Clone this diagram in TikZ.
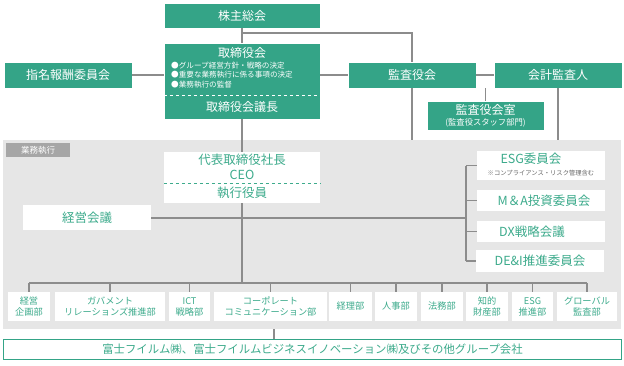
\documentclass[tikz,border=0pt]{standalone}
\usepackage{fontspec}
\setmainfont{Noto Sans CJK JP}
\usetikzlibrary{calc,positioning}
\definecolor{fujiGreen}{HTML}{34A487}
\definecolor{fujiText}{HTML}{3DAB8C}
\definecolor{fujiLine}{HTML}{8C8C8C}
\definecolor{fujiPanel}{HTML}{E6E6E6}
\definecolor{fujiTag}{HTML}{A6A6A6}
\tikzset{
  link/.style={draw=fujiLine, line width=1.1pt},
  green box/.style={fill=fujiGreen, draw=white, line width=0.4pt,
    text=white, align=center, inner sep=0pt, font=\fontsize{12}{14}\selectfont},
  white box/.style={fill=white, text=fujiText, align=center, inner sep=0pt,
    font=\fontsize{12.5}{14}\selectfont},
  dept box/.style={fill=white, text=fujiText, align=center, inner sep=0pt,
    minimum height=29pt, font=\fontsize{9.2}{11}\selectfont},
  tiny note/.style={font=\fontsize{6.3}{7}\selectfont, text=black!60}
}
\begin{document}
\begin{tikzpicture}[x=1pt, y=-1pt]
  \useasboundingbox (0,0) rectangle (624,365);
  % governance
  \node[green box, minimum width=156pt, minimum height=25pt] (soukai) at (242,15.5) {株主総会};
  \node[green box, minimum width=156pt, minimum height=76pt] (torishimari) at (242,81) {};
  \node[text=white, font=\fontsize{12}{14}\selectfont] (torititle) at (242,53) {取締役会};
  \node[text=white, align=left, anchor=north west, inner sep=0pt,
    font=\fontsize{7.6}{9.6}\selectfont] (toribullet) at (171,61.5)
    {●グループ経営方針・戦略の決定\\●重要な業務執行に係る事項の決定\\●業務執行の監督};
  \draw[white, dashed, line width=0.5pt] (torishimari.west |- 0,95) -- (torishimari.east |- 0,95);
  \node[text=white, font=\fontsize{12}{14}\selectfont] (gichou) at (242,107) {取締役会議長};
  \node[green box, minimum width=128pt, minimum height=26pt] (shimei) at (68,75) {指名報酬委員会};
  \node[green box, minimum width=128pt, minimum height=26pt] (kansa) at (412,75) {監査役会};
  \node[green box, minimum width=128pt, minimum height=26pt] (kaikei) at (558,75) {会計監査人};
  \node[green box, minimum width=117pt, minimum height=29pt] (kansashitsu) at (485.5,115.5)
    {監査役会室\\[-3pt]{\fontsize{8.3}{10}\selectfont (監査役スタッフ部門)}};

  % execution panel
  \node[fill=fujiPanel, minimum width=618pt, minimum height=189pt, inner sep=0pt] (panel) at (312,234.5) {};
  \node[fill=fujiTag, text=white, minimum width=64pt, minimum height=14pt, inner sep=0pt,
    font=\fontsize{8.5}{10}\selectfont] (tag) at (38,150) {業務執行};
  \node[white box, minimum width=156pt, minimum height=51pt] (ceo) at (242,177.5) {};
  \node[text=fujiText, align=center, inner sep=0pt, font=\fontsize{12.5}{15}\selectfont] (ceotext) at (242,167)
    {代表取締役社長\\CEO};
  \draw[fujiText, dashed, line width=0.6pt] (ceo.west |- 0,183) -- (ceo.east |- 0,183);
  \node[text=fujiText, font=\fontsize{12.5}{14}\selectfont] (yakuin) at (242,193) {執行役員};
  \node[white box, minimum width=128pt, minimum height=25pt] (keiei) at (87,217.5) {経営会議};
  \node[white box, minimum width=128pt, minimum height=29pt] (esg) at (541,165.5) {};
  \node[text=fujiText, font=\fontsize{12.5}{14}\selectfont, inner sep=0pt] (esgtext) at (531,159) {ESG委員会};
  \node[tiny note, inner sep=0pt] (esgnote) at (541,173.5) {※コンプライアンス・リスク管理含む};
  \node[white box, minimum width=128pt, minimum height=21pt] (ma) at (541,200.5) {\hspace{6pt}M＆A投資委員会};
  \node[white box, minimum width=128pt, minimum height=21pt] (dx) at (541,231.5) {DX戦略会議\hspace{18pt}};
  \node[white box, minimum width=128pt, minimum height=22pt] (dei) at (540,261) {DE\&I推進委員会};

  % departments
  \node[dept box, minimum width=42pt] (keikaku) at (29,306.5) {経営\\企画部};
  \node[dept box, minimum width=110pt] (gov) at (110,306.5) {ガバメント\\リレーションズ推進部};
  \node[dept box, minimum width=41pt] (ict) at (189.5,306.5) {ICT\\戦略部};
  \node[dept box, minimum width=113pt] (corp) at (270.5,306.5) {コーポレート\\コミュニケーション部};
  \node[dept box, minimum width=43pt] (keiri) at (350.5,306.5) {経理部};
  \node[dept box, minimum width=42pt] (jinji) at (396,306.5) {人事部};
  \node[dept box, minimum width=42pt] (houmu) at (442,306.5) {法務部};
  \node[dept box, minimum width=42pt] (chiteki) at (487,306.5) {知的\\財産部};
  \node[dept box, minimum width=41pt] (esgsuishin) at (532.5,306.5) {ESG\\推進部};
  \node[dept box, minimum width=60pt] (global) at (587,306.5) {グローバル\\監査部};
  \node[fill=white, draw=fujiGreen, line width=1.2pt, text=fujiText, minimum width=618pt,
    minimum height=20pt, inner sep=0pt, font=\fontsize{11.4}{14}\selectfont] (group) at (312.5,349.5)
    {富士フイルム㈱、富士フイルムビジネスイノベーション㈱及びその他グループ会社};

  % connectors
  \coordinate (spine) at (242,218);
  \coordinate (bus) at (242,283);
  \coordinate (rbus) at (466,218);
  \draw[link] (soukai) -- (torishimari);
  \draw[link] (soukai.south |- 0,33) -| (kansa.north);
  \draw[link] (shimei) -- (shimei -| torishimari.west);
  \draw[link] (torishimari.east |- kansa) -- (kansa);
  \draw[link] (kansa) -- (kaikei);
  \draw[link] (kansa.south -| kansashitsu.north) -- (kansashitsu.north);
  \draw[link] (kansa.south) -- (kansa.south |- panel.north);
  \draw[link] (kaikei.south) -- (kaikei.south |- panel.north);
  \draw[link] (torishimari) -- (ceo);
  \draw[link] (ceo) -- (bus);
  \draw[link] (keiei.east |- spine) -- (rbus);
  \draw[link] (rbus |- esg) -- (rbus |- dei);
  \foreach \c in {esg,ma,dx,dei}
    \draw[link] (rbus |- \c) -- (\c.west |- \c);
  \draw[link] (keikaku.north |- bus) -- (global.north |- bus);
  \foreach \d in {keikaku,gov,ict,corp,keiri,jinji,houmu,chiteki,esgsuishin,global}
    \draw[link] (\d.north |- bus) -- (\d.north);
  \draw[link] ([xshift=3.5pt]group.north -| corp) -- ([xshift=3.5pt]panel.south -| corp);
\end{tikzpicture}
\end{document}
